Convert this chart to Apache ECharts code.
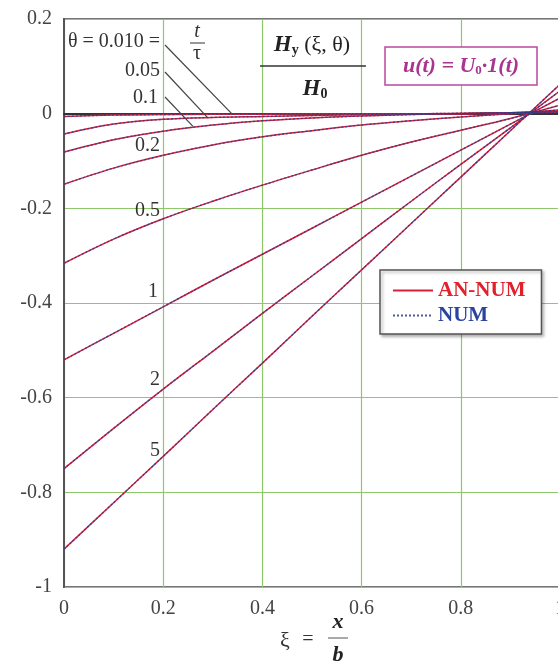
<!DOCTYPE html>
<html>
<head>
<meta charset="utf-8">
<script src="https://cdn.jsdelivr.net/npm/echarts@6/dist/echarts.min.js"></script>
<style>
  html, body { margin: 0; padding: 0; background: #fff; }
  #chart { width: 558px; height: 668px; }
</style>
</head>
<body>
<div id="chart"></div>
<script>
  // xi = x / b
  const xi = [0, 0.1, 0.2, 0.3, 0.4, 0.5, 0.6, 0.7, 0.8, 0.9, 1.0];
  // Hy(xi, theta) / H0 for each theta = t / tau
  const h0_01 = [-0.006, -0.003, -0.002, -0.001, -0.001, 0, 0, 0, 0.001, 0.002, 0.003];
  const h0_05 = [-0.043, -0.022, -0.012, -0.008, -0.006, -0.004, -0.002, -0.001, 0, 0.002, 0.004];
  const h0_1 = [-0.081, -0.055, -0.037, -0.024, -0.015, -0.009, -0.005, -0.002, 0, 0.002, 0.005];
  const h0_2 = [-0.149, -0.115, -0.088, -0.066, -0.049, -0.036, -0.024, -0.015, -0.007, 0, 0.008];
  const h0_5 = [-0.316, -0.265, -0.222, -0.185, -0.151, -0.119, -0.088, -0.060, -0.035, -0.010, 0.018];
  const h1 = [-0.52, -0.464, -0.408, -0.352, -0.297, -0.242, -0.187, -0.132, -0.077, -0.022, 0.033];
  const h2 = [-0.75, -0.665, -0.582, -0.502, -0.422, -0.343, -0.264, -0.185, -0.107, -0.03, 0.048];
  const h5 = [-0.92, -0.822, -0.724, -0.625, -0.527, -0.428, -0.330, -0.232, -0.134, -0.036, 0.062];
  const curves = [h0_01, h0_05, h0_1, h0_2, h0_5, h1, h2, h5];
  const yTicks = [0.2, 0, -0.2, -0.4, -0.6, -0.8, -1];

  const serif = '"Liberation Serif", "DejaVu Serif", serif';
  var chart = echarts.init(document.getElementById('chart'));

  function pairs(ys) {
    return xi.map((x, i) => [x, ys[i]]);
  }

  var series = [];
  curves.forEach(function (c) {
    series.push({
      name: 'AN-NUM', type: 'line', data: pairs(c), smooth: 0.35,
      symbol: 'none', itemStyle: { color: '#d9203a', opacity: 0 },
      lineStyle: { color: '#d9203a', width: 1.5 }, z: 3
    });
  });
  curves.forEach(function (c) {
    series.push({
      name: 'NUM', type: 'line', data: pairs(c), smooth: 0.35,
      symbol: 'none', itemStyle: { color: '#2c3c8c', opacity: 0 },
      lineStyle: { color: '#2c3c8c', width: 1.3, type: [2, 2], opacity: 0.85 }, z: 4
    });
  });

  var option = {
    animation: false,
    backgroundColor: '#fff',
    grid: {
      left: 64, top: 19, right: -2, bottom: 81,
      outerBoundsMode: 'none', containLabel: false,
      show: true, borderColor: '#777', borderWidth: 2
    },
    xAxis: {
      type: 'value', min: 0, max: 1, interval: 0.2,
      axisLine: { lineStyle: { color: '#333', width: 2 } },
      axisTick: { show: false },
      axisLabel: { fontFamily: serif, fontSize: 20, color: '#444', margin: 12,
        formatter: v => String(+v.toFixed(1)) },
      splitLine: { lineStyle: { color: '#8fc86a', width: 1.2 } }
    },
    yAxis: {
      type: 'value', min: -1, max: 0.2, interval: 0.2,
      axisLine: { show: true, lineStyle: { color: '#555', width: 2 } },
      axisTick: { show: false },
      axisLabel: { fontFamily: serif, fontSize: 20, color: '#444', margin: 12,
        formatter: v => yTicks.includes(+v.toFixed(1)) ? String(+v.toFixed(1)) : '' },
      splitLine: { lineStyle: { color: '#8fc86a', width: 1.2 } }
    },
    legend: {
      orient: 'vertical', left: 380, top: 270,
      data: [
        { name: 'AN-NUM', textStyle: { color: '#e0202a' } },
        { name: 'NUM', textStyle: { color: '#2a44a0' } }
      ],
      itemWidth: 40, itemHeight: 10, itemGap: 4,
      padding: [10, 16, 8, 12],
      backgroundColor: '#fff', borderColor: '#555', borderWidth: 1.5,
      shadowColor: 'rgba(0,0,0,0.3)', shadowBlur: 3, shadowOffsetX: 2, shadowOffsetY: 2,
      textStyle: { fontFamily: serif, fontSize: 21, fontWeight: 'bold' }
    },
    series: series
  };
  chart.setOption(option);

  // annotations
  function px(x, y) { return chart.convertToPixel({ gridIndex: 0 }, [x, y]); }
  var lab = { fontFamily: serif, fontSize: 20, fill: '#333' };
  function text(x, y, s, align, extra) {
    return { type: 'text', x: x, y: y, z: 20,
      style: Object.assign({ text: s, align: align || 'right', verticalAlign: 'middle' }, lab, extra || {}) };
  }
  function leader(x0, y0, xv, yv) {
    var p = px(xv, yv);
    return { type: 'line', z: 20, shape: { x1: x0, y1: y0, x2: p[0], y2: p[1] },
      style: { stroke: '#444', lineWidth: 1.2 } };
  }
  var g = [
    text(68, 42, 'θ = 0.010 =', 'left'),
    { type: 'text', x: 197, y: 32, z: 20, style: { text: 't', align: 'center', verticalAlign: 'middle',
      fontFamily: serif, fontSize: 20, fontStyle: 'italic', fill: '#333' } },
    { type: 'line', z: 20, shape: { x1: 190, y1: 43, x2: 205, y2: 43 }, style: { stroke: '#333', lineWidth: 1 } },
    { type: 'text', x: 197, y: 54, z: 20, style: { text: 'τ', align: 'center', verticalAlign: 'middle',
      fontFamily: serif, fontSize: 20, fill: '#333' } },
    text(160, 71, '0.05'),
    text(158, 98, '0.1'),
    text(160, 146, '0.2'),
    text(160, 211, '0.5'),
    text(158, 292, '1'),
    text(160, 380, '2'),
    text(160, 451, '5'),
    leader(165, 45, 0.34, -0.002),
    leader(165, 72, 0.29, -0.009),
    leader(165, 97, 0.26, -0.027),
    // Hy(xi, theta) / H0
    { type: 'text', x: 312, y: 45, z: 20, style: {
      text: '{i|H}{s|y}{n| (ξ, θ)}', align: 'center', verticalAlign: 'middle',
      rich: {
        i: { fontFamily: serif, fontSize: 23, fontStyle: 'italic', fontWeight: 'bold', fill: '#222' },
        s: { fontFamily: serif, fontSize: 14, fontWeight: 'bold', fill: '#222', verticalAlign: 'bottom', padding: [10, 0, 0, 0] },
        n: { fontFamily: serif, fontSize: 22, fill: '#222' }
      } } },
    { type: 'line', z: 20, shape: { x1: 260, y1: 66, x2: 366, y2: 66 }, style: { stroke: '#333', lineWidth: 1.5 } },
    { type: 'text', x: 315, y: 89, z: 20, style: {
      text: '{i|H}{s|0}', align: 'center', verticalAlign: 'middle',
      rich: {
        i: { fontFamily: serif, fontSize: 23, fontStyle: 'italic', fontWeight: 'bold', fill: '#222' },
        s: { fontFamily: serif, fontSize: 14, fontWeight: 'bold', fill: '#222', padding: [10, 0, 0, 0] }
      } } },
    // u(t) = U0 1(t)
    { type: 'rect', z: 19, shape: { x: 385, y: 47, width: 152, height: 38 },
      style: { fill: '#fff', stroke: '#b8489e', lineWidth: 1.5 } },
    { type: 'text', x: 461, y: 66, z: 20, style: {
      text: '{i|u(t) = U}{s|0}{i|·1(t)}', align: 'center', verticalAlign: 'middle',
      rich: {
        i: { fontFamily: serif, fontSize: 22, fontStyle: 'italic', fontWeight: 'bold', fill: '#a8358f' },
        s: { fontFamily: serif, fontSize: 13, fontWeight: 'bold', fill: '#a8358f', padding: [10, 0, 0, 0] }
      } } },
    // xi = x / b
    text(285, 641, 'ξ', 'center', { fontSize: 22 }),
    text(308, 640, '=', 'center', { fontSize: 20 }),
    { type: 'text', x: 338, y: 622, z: 20, style: { text: 'x', align: 'center', verticalAlign: 'middle',
      fontFamily: serif, fontSize: 22, fontStyle: 'italic', fontWeight: 'bold', fill: '#222' } },
    { type: 'line', z: 20, shape: { x1: 328, y1: 638, x2: 348, y2: 638 }, style: { stroke: '#555', lineWidth: 1 } },
    { type: 'text', x: 338, y: 655, z: 20, style: { text: 'b', align: 'center', verticalAlign: 'middle',
      fontFamily: serif, fontSize: 22, fontStyle: 'italic', fontWeight: 'bold', fill: '#222' } }
  ];
  chart.setOption({ graphic: g });

  window.onresize = function () { chart.resize(); };
</script>
</body>
</html>
